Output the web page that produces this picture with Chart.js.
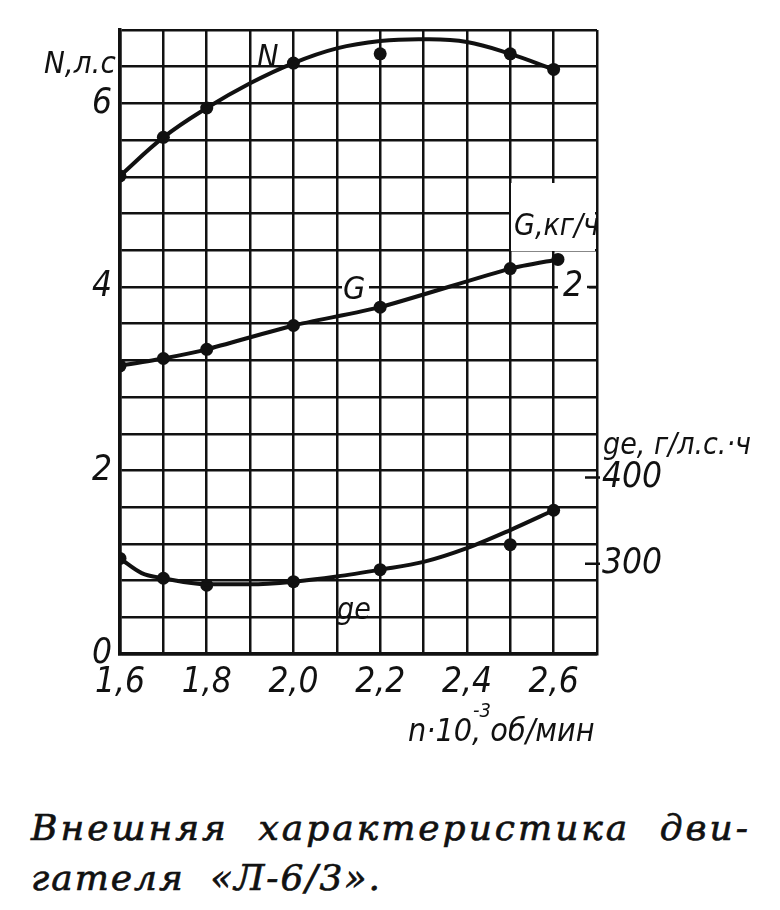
<!DOCTYPE html>
<html><head><meta charset="utf-8">
<script src="https://cdn.jsdelivr.net/npm/chart.js@4.4.1/dist/chart.umd.min.js"></script>
<style>
html,body{margin:0;padding:0;background:#fff;}
#wrap{position:relative;width:780px;height:910px;overflow:hidden;}
#c{position:absolute;left:0;top:0;}
#cap{position:absolute;left:31px;top:803px;font-family:'DejaVu Serif',serif;font-style:italic;font-size:36px;line-height:50px;letter-spacing:3px;word-spacing:15px;color:#111;white-space:nowrap;-webkit-text-stroke:0.7px #111;}
#cap .l2{letter-spacing:2px;word-spacing:12px;}
</style></head><body>
<div id="wrap"><canvas id="c" width="780" height="770"></canvas>
<div id="cap">Внешняя характеристика дви-<br><span class="l2">гателя «Л-6/3».</span></div></div>
<script>
// ---- data ----
const xTickValues = [1.6, 1.8, 2.0, 2.2, 2.4, 2.6];
const xTickLabels = ['1,6', '1,8', '2,0', '2,2', '2,4', '2,6'];
const nTickValues = [0, 2, 4, 6];
const nTickLabels = ['0', '2', '4', '6'];
const gTickValues = [2];
const gTickLabels = ['2'];
const geTickValues = [300, 400];
const geTickLabels = ['300', '400'];

// N, л.с. (measured points and drawn curve)
const nPointsX = [1.6, 1.7, 1.8, 2.0, 2.2, 2.5, 2.6];
const powerPoints = [5.21, 5.63, 5.95, 6.44, 6.54, 6.54, 6.37];
const nCurveX = [1.6, 1.7, 1.8, 1.9, 2.0, 2.1, 2.2, 2.3, 2.4, 2.5, 2.6];
const powerCurve = [5.21, 5.63, 5.95, 6.22, 6.44, 6.60, 6.68, 6.70, 6.67, 6.54, 6.37];

// G, кг/ч
const gX = [1.6, 1.7, 1.8, 2.0, 2.2, 2.5, 2.61];
const fuelG = [1.57, 1.61, 1.66, 1.79, 1.89, 2.10, 2.15];

// ge, г/л.с.·ч
const geCurveX = [1.6, 1.65, 1.7, 1.8, 1.9, 2.0, 2.1, 2.2, 2.3, 2.4, 2.5, 2.6];
const geCurve = [306, 289, 283, 276, 276, 279, 285, 293, 302, 318, 339, 362];
const gePointsX = [1.6, 1.7, 1.8, 2.0, 2.2, 2.5, 2.6];
const gePoints = [306, 283, 275, 279, 293, 322, 362];

// ---- helpers ----
const toXY = (xs, ys) => xs.map((x, i) => ({x: x, y: ys[i]}));
const pick = (vals, labels) => (v) => {
  const i = vals.findIndex(t => Math.abs(t - v) < 1e-6);
  return i >= 0 ? labels[i] : '';
};
const INK = '#111';
const FONT = "'Liberation Sans Narrow','DejaVu Sans Condensed',sans-serif";
const tickFont = {family: FONT, size: 35, style: 'italic'};
const dot = {pointRadius: 6.5, pointBorderWidth: 0, pointBackgroundColor: INK, pointBorderColor: INK};

const annot = {
  id: 'annot',
  beforeDatasetsDraw(chart) {
    const ctx = chart.ctx;
    ctx.save();
    ctx.textBaseline = 'alphabetic';
    const f = (s) => 'italic ' + s + 'px ' + FONT;
    // white boxes behind labels inside the grid
    ctx.fillStyle = '#fff';
    ctx.fillRect(511, 183, 84, 68);
    ctx.fillRect(342, 271, 27, 30);
    ctx.fillStyle = INK;
    ctx.font = f(31);
    ctx.fillText('N,л.с', 44, 73);
    ctx.font = f(32);
    ctx.fillText('N', 257, 67);
    ctx.fillText('G', 343, 299);
    ctx.font = f(30);
    ctx.fillText('G,кг/ч', 514, 235);
    ctx.fillText('ge', 337, 619);
    ctx.fillText('ge, г/л.с.·ч', 603, 454);
    // x-axis title n·10^-3, об/мин
    ctx.font = f(32);
    let x = 408;
    ctx.fillText('n·10', x, 741);
    x += ctx.measureText('n·10').width;
    ctx.font = f(20);
    ctx.fillText('-3', x + 1, 717);
    ctx.font = f(32);
    ctx.fillText(', об/мин', x, 741);
    // tick dashes on the right edge
    ctx.strokeStyle = INK;
    ctx.lineWidth = 2.5;
    const yG = chart.scales.yG, yGe = chart.scales.yGe;
    const r = chart.chartArea.right;
    ctx.beginPath();
    gTickValues.forEach(v => { const y = yG.getPixelForValue(v); ctx.moveTo(r - 10, y); ctx.lineTo(r, y); });
    geTickValues.forEach(v => { const y = yGe.getPixelForValue(v); ctx.moveTo(r - 12, y); ctx.lineTo(r + 3, y); });
    ctx.stroke();
    ctx.restore();
  }
};

new Chart(document.getElementById('c'), {
  type: 'scatter',
  data: {
    datasets: [
      Object.assign({label: 'N curve', data: toXY(nCurveX, powerCurve), yAxisID: 'yN', showLine: true,
       borderColor: INK, borderWidth: 4, tension: 0.4, fill: false}, dot, {pointRadius: 0}),
      Object.assign({label: 'N', data: toXY(nPointsX, powerPoints), yAxisID: 'yN', showLine: false}, dot),
      Object.assign({label: 'G', data: toXY(gX, fuelG), yAxisID: 'yG', showLine: true,
       borderColor: INK, borderWidth: 4, tension: 0.2}, dot),
      Object.assign({label: 'ge curve', data: toXY(geCurveX, geCurve), yAxisID: 'yGe', showLine: true,
       borderColor: INK, borderWidth: 4, tension: 0.4, cubicInterpolationMode: 'monotone'}, dot, {pointRadius: 0}),
      Object.assign({label: 'ge', data: toXY(gePointsX, gePoints), yAxisID: 'yGe', showLine: false}, dot)
    ]
  },
  options: {
    responsive: false,
    animation: false,
    devicePixelRatio: 1,
    layout: {padding: {top: 30, left: 0, right: 0, bottom: 0}},
    plugins: {legend: {display: false}, tooltip: {enabled: false}},
    scales: {
      x: {
        type: 'linear', position: 'bottom', min: 1.6, max: 2.7,
        ticks: {stepSize: 0.1, autoSkip: false, maxRotation: 0, padding: 8, color: INK,
                font: tickFont, callback: pick(xTickValues, xTickLabels)},
        grid: {color: INK, lineWidth: 2.5, drawTicks: false},
        border: {display: true, color: INK, width: 3.5},
        afterFit: (s) => { s.height = 116; }
      },
      yN: {
        type: 'linear', position: 'left', min: 0, max: 6.8,
        ticks: {stepSize: 0.4, autoSkip: false, padding: 8, color: INK,
                font: tickFont, callback: pick(nTickValues, nTickLabels)},
        grid: {color: INK, lineWidth: 2.5, drawTicks: false},
        border: {display: true, color: INK, width: 3.5},
        afterFit: (s) => { s.width = 120; }
      },
      yG: {
        type: 'linear', position: 'right', weight: 0, min: 0, max: 3.4,
        afterBuildTicks: (s) => { s.ticks = gTickValues.map(v => ({value: v})); },
        ticks: {mirror: true, padding: -14, color: INK, font: tickFont,
                showLabelBackdrop: true, backdropColor: '#fff',
                backdropPadding: {left: 5, right: 6, top: 2, bottom: 2},
                callback: pick(gTickValues, gTickLabels)},
        grid: {display: false, drawTicks: false},
        border: {display: false},
        afterFit: (s) => { s.width = 0; }
      },
      yGe: {
        type: 'linear', position: 'right', weight: 1, min: 195, max: 920,
        afterBuildTicks: (s) => { s.ticks = geTickValues.map(v => ({value: v})); },
        ticks: {padding: 5, color: INK, font: tickFont,
                callback: pick(geTickValues, geTickLabels)},
        grid: {display: false, drawTicks: false},
        border: {display: false},
        afterFit: (s) => { s.width = 183; }
      }
    }
  },
  plugins: [annot]
});
</script>
</body></html>
